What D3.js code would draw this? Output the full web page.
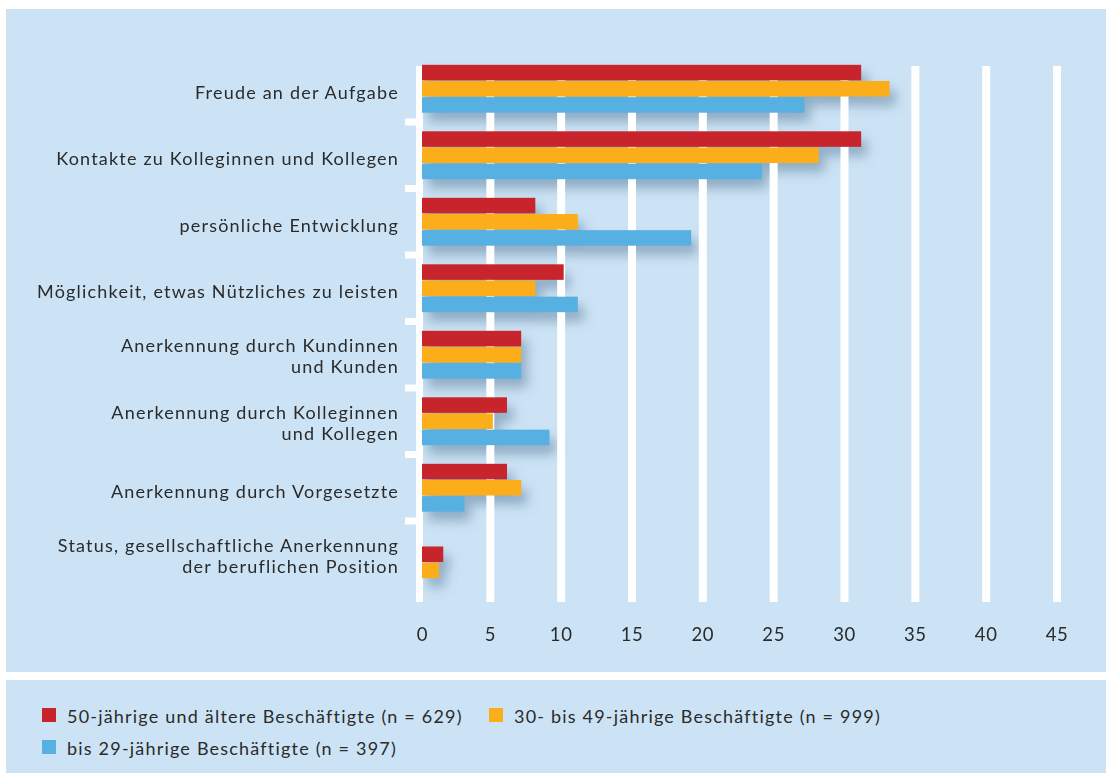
<!DOCTYPE html>
<html>
<head>
<meta charset="utf-8">
<script src="https://cdn.jsdelivr.net/npm/d3@7"></script>
<style>
  body { margin: 0; background: #fff; }
  svg { display: block; }
  text { font-family: Lato, "Open Sans", sans-serif; fill: #2b2b2b; }
</style>
</head>
<body>
<div id="area"></div>
<script>
// Kategorien (von oben nach unten), Zeilen durch "\n" getrennt
const categories = [
  "Freude an der Aufgabe",
  "Kontakte zu Kolleginnen und Kollegen",
  "persönliche Entwicklung",
  "Möglichkeit, etwas Nützliches zu leisten",
  "Anerkennung durch Kundinnen\nund Kunden",
  "Anerkennung durch Kolleginnen\nund Kollegen",
  "Anerkennung durch Vorgesetzte",
  "Status, gesellschaftliche Anerkennung\nder beruflichen Position"
]

const seriesNames = [
  "50-jährige und ältere Beschäftigte (n = 629)",
  "30- bis 49-jährige Beschäftigte (n = 999)",
  "bis 29-jährige Beschäftigte (n = 397)"
]

const older = [31, 31, 8, 10, 7, 6, 6, 1.5]
const middle = [33, 28, 11, 8, 7, 5, 7, 1.2]
const young = [27, 24, 19, 11, 7, 9, 3, null]

const xTicks = [0, 5, 10, 15, 20, 25, 30, 35, 40, 45]

const colors = ["#c8242b", "#fbae19", "#56b0e2"]
const seriesValues = [older, middle, young]

const width = 1106
const height = 773

const x = d3.scaleLinear().domain([0, 45]).range([419.5, 1057])
const y = d3.scaleBand()
  .domain(d3.range(categories.length))
  .range([55.5, 55.5 + 66.5 * categories.length])
  .paddingInner(0.28)
  .paddingOuter(0.14)
const slot = d3.scaleBand().domain(d3.range(seriesNames.length)).range([0, y.bandwidth()]).paddingInner(0.04)

// bars, missing values pushed to the top so present bars sit at the bottom of the group
let bars = []
categories.forEach((c, i) => {
  const present = seriesValues.map((s, k) => ({k, v: s[i]})).filter(d => d.v != null)
  const shift = seriesNames.length - present.length
  present.forEach((d, j) => {
    bars.push({cat: i, series: d.k, value: d.v, slot: j + shift})
  })
})

const svg = d3.select("#area").append("svg")
  .attr("width", width)
  .attr("height", height)

const defs = svg.append("defs")
defs.append("filter").attr("id", "shadow")
  .attr("x", "-20%").attr("y", "-100%").attr("width", "140%").attr("height", "300%")
  .append("feGaussianBlur").attr("stdDeviation", 6)

// panels
svg.append("rect").attr("x", 6).attr("y", 9).attr("width", width - 6).attr("height", 663).attr("fill", "#cce3f5")
svg.append("rect").attr("x", 6).attr("y", 680).attr("width", width - 6).attr("height", height - 680).attr("fill", "#cce3f5")

const barInset = 2.5
const barX = x(0) + barInset

// shadows below the grid
svg.append("g")
  .attr("filter", "url(#shadow)")
  .selectAll("rect")
  .data(bars)
  .join("rect")
  .attr("x", barX + 6)
  .attr("y", d => y(d.cat) + slot(d.slot) + 9)
  .attr("width", d => x(d.value) - x(0))
  .attr("height", slot.bandwidth())
  .attr("fill", "#5d7d99")
  .attr("opacity", 0.55)

// grid
svg.append("g")
  .selectAll("line")
  .data(xTicks)
  .join("line")
  .attr("x1", d => x(d))
  .attr("x2", d => x(d))
  .attr("y1", 66)
  .attr("y2", 602)
  .attr("stroke", "#fff")
  .attr("stroke-width", d => d === 0 ? 7 : 8)

// small marks between categories
svg.append("g")
  .selectAll("line")
  .data(d3.range(1, categories.length))
  .join("line")
  .attr("x1", 405)
  .attr("x2", x(0))
  .attr("y1", d => y(d) - y.step() * y.paddingInner() / 2)
  .attr("y2", d => y(d) - y.step() * y.paddingInner() / 2)
  .attr("stroke", "#fff")
  .attr("stroke-width", 7)

// bars
svg.append("g")
  .selectAll("rect")
  .data(bars)
  .join("rect")
  .attr("x", barX)
  .attr("y", d => y(d.cat) + slot(d.slot))
  .attr("width", d => x(d.value) - x(0))
  .attr("height", slot.bandwidth())
  .attr("fill", d => colors[d.series])

// category labels
const lab = svg.append("g")
  .attr("font-size", 18)
  .attr("letter-spacing", 1.2)
  .attr("text-anchor", "end")
  .selectAll("text")
  .data(categories)
  .join("text")
  .attr("x", 399)
  .attr("y", (d, i) => y(i) + y.bandwidth() / 2 + (d.includes("\n") ? 8 : 10))

lab.each(function(d) {
  const lines = d.split("\n")
  d3.select(this).selectAll("tspan")
    .data(lines)
    .join("tspan")
    .attr("x", 399)
    .attr("dy", (l, j) => j === 0 ? -(lines.length - 1) * 10.5 : 21)
    .text(l => l)
})

// x axis labels
svg.append("g")
  .attr("font-size", 18.5)
  .attr("letter-spacing", 0.6)
  .attr("text-anchor", "middle")
  .selectAll("text")
  .data(xTicks)
  .join("text")
  .attr("x", d => x(d) + (d === 0 ? 3 : 0))
  .attr("y", 640.5)
  .text(d => d)

// legend
const legendPos = [[42, 708], [489, 708], [42, 740]]
const leg = svg.append("g")
  .selectAll("g")
  .data(seriesNames)
  .join("g")
  .attr("transform", (d, i) => `translate(${legendPos[i][0]},${legendPos[i][1]})`)

leg.append("rect")
  .attr("width", 14)
  .attr("height", 14)
  .attr("fill", (d, i) => colors[i])

leg.append("text")
  .attr("x", 25)
  .attr("y", 14.5)
  .attr("font-size", 18)
  .attr("letter-spacing", 1.2)
  .text(d => d)
</script>
</body>
</html>
